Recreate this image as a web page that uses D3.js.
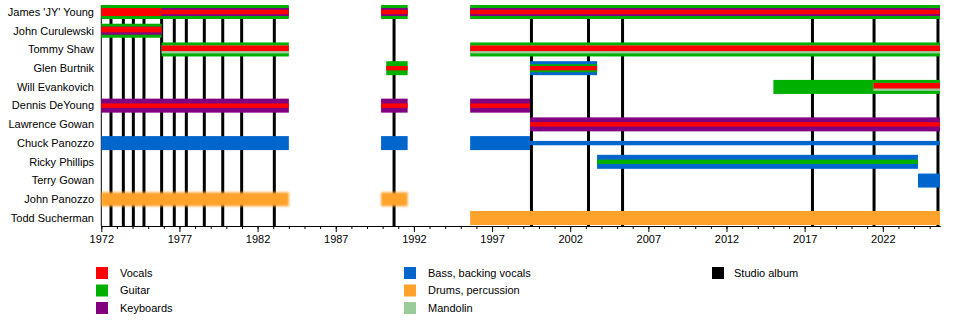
<!DOCTYPE html>
<html><head><meta charset="utf-8">
<script src="https://cdn.jsdelivr.net/npm/d3@7"></script>
<style>
html,body{margin:0;padding:0;background:#fff;}
svg{display:block;font-family:"Liberation Sans",Arial,Helvetica,sans-serif;}
</style></head>
<body>
<svg id="chart" width="960" height="325"></svg>
<script>
// ---------- data ----------
const members = ["James 'JY' Young","John Curulewski","Tommy Shaw","Glen Burtnik","Will Evankovich",
  "Dennis DeYoung","Lawrence Gowan","Chuck Panozzo","Ricky Phillips","Terry Gowan","John Panozzo","Todd Sucherman"];
const roles = ["Vocals","Guitar","Keyboards","Bass, backing vocals","Drums, percussion","Mandolin"];
const startYear = 1972;
const endYear = 2025.66;
const tickYears = d3.range(1972, 2026, 1);
const labelYears = [1972,1977,1982,1987,1992,1997,2002,2007,2012,2017,2022];
const albumYears = [1972.62,1973.41,1974.05,1974.73,1975.86,1976.67,1977.44,1978.59,1979.77,1980.98,1983.07,
  1990.73,1999.52,2003.17,2005.35,2017.5,2021.44,2025.53];
// [member, role, start, end, layer]
const periods = [
  ["James 'JY' Young","Guitar",1972,1984,"full"],
  ["James 'JY' Young","Vocals",1972,1975.86,"mid"],
  ["James 'JY' Young","Keyboards",1975.86,1984,"mid"],
  ["James 'JY' Young","Vocals",1975.86,1984,"thin"],
  ["James 'JY' Young","Guitar",1989.9,1991.6,"full"],
  ["James 'JY' Young","Keyboards",1989.9,1991.6,"mid"],
  ["James 'JY' Young","Vocals",1989.9,1991.6,"thin"],
  ["James 'JY' Young","Guitar",1995.6,endYear,"full"],
  ["James 'JY' Young","Keyboards",1995.6,endYear,"mid"],
  ["James 'JY' Young","Vocals",1995.6,endYear,"thin"],
  ["John Curulewski","Guitar",1972,1975.86,"full"],
  ["John Curulewski","Keyboards",1972,1975.86,"mid"],
  ["John Curulewski","Vocals",1972,1975.86,"upper"],
  ["Tommy Shaw","Guitar",1975.86,1984,"full"],
  ["Tommy Shaw","Mandolin",1975.86,1984,"mid"],
  ["Tommy Shaw","Vocals",1975.86,1984,"upper"],
  ["Tommy Shaw","Guitar",1995.6,endYear,"full"],
  ["Tommy Shaw","Mandolin",1995.6,endYear,"mid"],
  ["Tommy Shaw","Vocals",1995.6,endYear,"upper"],
  ["Glen Burtnik","Guitar",1990.23,1991.6,"full"],
  ["Glen Burtnik","Vocals",1990.23,1991.6,"thin"],
  ["Glen Burtnik","Bass, backing vocals",1999.43,2003.72,"full"],
  ["Glen Burtnik","Guitar",1999.43,2003.72,"mid"],
  ["Glen Burtnik","Vocals",1999.43,2003.72,"thin"],
  ["Will Evankovich","Guitar",2015.0,endYear,"full"],
  ["Will Evankovich","Mandolin",2021.4,endYear,"mid"],
  ["Will Evankovich","Vocals",2021.4,endYear,"upper"],
  ["Dennis DeYoung","Keyboards",1972,1984,"full"],
  ["Dennis DeYoung","Vocals",1972,1984,"thin"],
  ["Dennis DeYoung","Keyboards",1989.9,1991.6,"full"],
  ["Dennis DeYoung","Vocals",1989.9,1991.6,"thin"],
  ["Dennis DeYoung","Keyboards",1995.6,1999.43,"full"],
  ["Dennis DeYoung","Vocals",1995.6,1999.43,"thin"],
  ["Lawrence Gowan","Keyboards",1999.43,endYear,"full"],
  ["Lawrence Gowan","Vocals",1999.43,endYear,"thin"],
  ["Chuck Panozzo","Bass, backing vocals",1972,1984,"full"],
  ["Chuck Panozzo","Bass, backing vocals",1989.9,1991.6,"full"],
  ["Chuck Panozzo","Bass, backing vocals",1995.6,1999.43,"full"],
  ["Chuck Panozzo","Bass, backing vocals",1999.43,endYear,"thin"],
  ["Ricky Phillips","Bass, backing vocals",2003.72,2024.25,"full"],
  ["Ricky Phillips","Guitar",2003.72,2024.25,"thin"],
  ["Terry Gowan","Bass, backing vocals",2024.25,endYear,"full"],
  ["John Panozzo","Drums, percussion",1972,1984,"full"],
  ["John Panozzo","Drums, percussion",1989.9,1991.6,"full"],
  ["Todd Sucherman","Drums, percussion",1995.6,endYear,"full"]
];

// ---------- styles ----------
const roleColor = {"Vocals":"#ff0000","Guitar":"#00b000","Keyboards":"#800080",
  "Bass, backing vocals":"#0066cc","Drums, percussion":"#ffa22c","Mandolin":"#99cc99"};
const layerBand = {full:[-7,7], mid:[-4,4], thin:[-2.2,2.2], upper:[-4,1.6]};
const layerOrder = {full:0, mid:1, upper:2, thin:3};

const svg = d3.select("#chart");
const x = d3.scaleLinear().domain([startYear, endYear]).range([101.3, 940]);
const y = d3.scalePoint().domain(members).range([12, 218]);
const axisY = 226;

// blur filter for fuzzy bars
const defs = svg.append("defs");
defs.append("filter").attr("id","soft").attr("x","-5%").attr("y","-30%").attr("width","110%").attr("height","160%")
  .append("feGaussianBlur").attr("stdDeviation","1.1");

// album lines
svg.append("g").selectAll("line").data(albumYears).join("line")
  .attr("x1", d => x(d)).attr("x2", d => x(d))
  .attr("y1", y(members[0]) - 7).attr("y2", axisY)
  .attr("stroke", "#000").attr("stroke-width", 3);

// left plot edge
svg.append("line").attr("x1", x(startYear)).attr("x2", x(startYear))
  .attr("y1", y(members[0]) - 7).attr("y2", axisY).attr("stroke","#000").attr("stroke-width",1);

// bars
const sorted = periods.map((p,i)=>({m:p[0],r:p[1],s:p[2],e:p[3],l:p[4],i}))
  .sort((a,b)=> layerOrder[a.l]-layerOrder[b.l] || a.i-b.i);
svg.append("g").selectAll("rect").data(sorted).join("rect")
  .attr("x", d => x(d.s))
  .attr("width", d => x(d.e) - x(d.s))
  .attr("y", d => y(d.m) + layerBand[d.l][0])
  .attr("height", d => layerBand[d.l][1] - layerBand[d.l][0])
  .attr("fill", d => roleColor[d.r])
  .attr("filter", d => d.m === "John Panozzo" ? "url(#soft)" : null);

// member labels
svg.append("g").selectAll("text").data(members).join("text")
  .attr("x", 94).attr("y", d => y(d)).attr("dy","0.35em")
  .attr("text-anchor","end").attr("font-size", 11).attr("fill","#000").text(d => d);

// axis
const minor = d3.axisBottom(x).tickValues(tickYears).tickSize(3).tickSizeOuter(0).tickFormat("");
const major = d3.axisBottom(x).tickValues(labelYears).tickSize(6).tickSizeOuter(0).tickFormat(d3.format("d"));
const gMinor = svg.append("g").attr("transform",`translate(0,${axisY})`).call(minor);
const gMajor = svg.append("g").attr("transform",`translate(0,${axisY})`).call(major);
[gMinor,gMajor].forEach(g => { g.selectAll("line").attr("stroke","#000"); g.select(".domain").attr("stroke","#000"); });
gMajor.selectAll("text").attr("font-size", 11).attr("fill","#000")
  .attr("font-family","Liberation Sans, Arial, sans-serif").attr("y", 9);

// legend
const legendItems = roles.map((r,i)=>({label:r, color:roleColor[r], col: Math.floor(i/3), row: i%3}));
legendItems.push({label:"Studio album", color:"#000", col:2, row:0});
const colX = [96, 404, 712];
const rowY = [273, 290.5, 308];
const lg = svg.append("g").selectAll("g").data(legendItems).join("g")
  .attr("transform", d => `translate(${colX[d.col]},${rowY[d.row]})`);
lg.append("rect").attr("x",0).attr("y",-6).attr("width",12).attr("height",12).attr("fill", d => d.color);
lg.append("text").attr("x", d => d.col===2 ? 22 : 24).attr("y",0).attr("dy","0.35em")
  .attr("font-size", 11).attr("fill","#000").text(d => d.label);
</script>
</body></html>
